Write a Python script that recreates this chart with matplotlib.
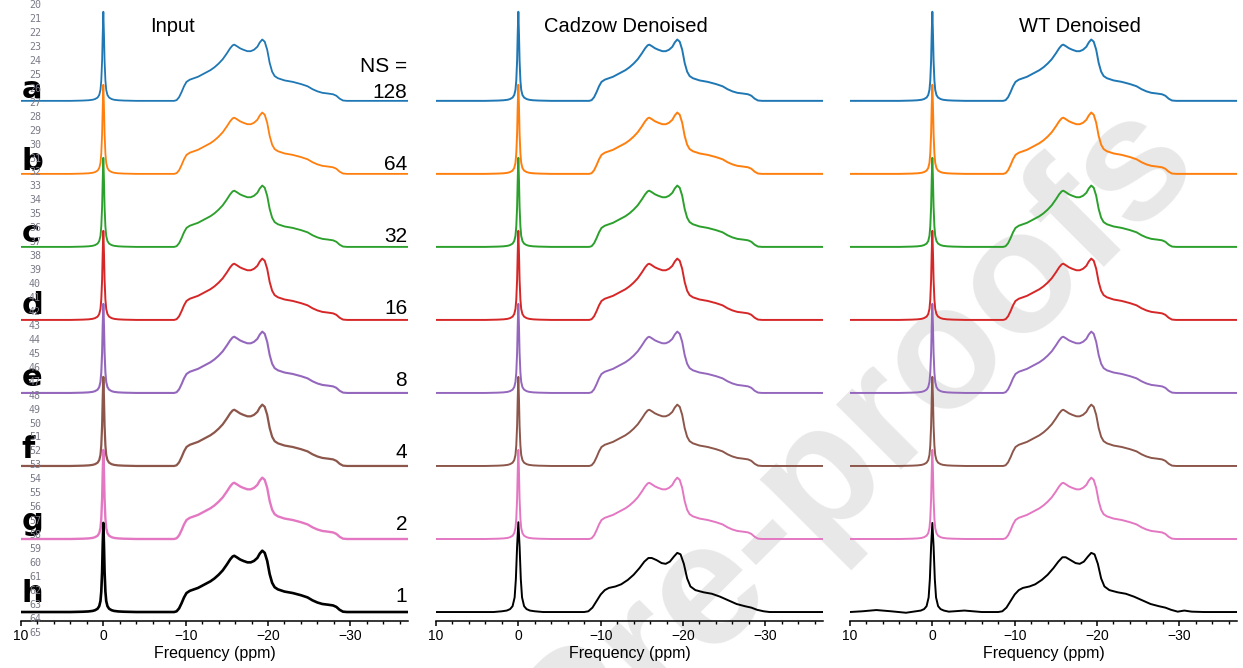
import matplotlib.pyplot as plt
from matplotlib.ticker import MultipleLocator

plt.rcParams['font.family'] = ['Liberation Sans', 'DejaVu Sans']

# spectrum shape (intensity in units of trace spacing)
ppm_clean = [10.0, 4.0, 2.5, 1.8, 1.3, 1.0, 0.7, 0.5, 0.35, 0.25, 0.15, 0.08, 0.0,
             -0.08, -0.15, -0.25, -0.35, -0.5, -0.7, -1.0, -1.3, -1.8, -2.5, -4.0,
             -8.6, -8.9, -9.2, -9.5, -9.8, -10.1, -10.5, -11.0, -11.5, -12.0, -12.5,
             -13.0, -13.5, -14.0, -14.5, -15.0, -15.4, -15.7, -15.9, -16.2, -16.6,
             -17.0, -17.5, -17.9, -18.3, -18.7, -19.0, -19.3, -19.6, -19.9, -20.2,
             -20.5, -20.8, -21.2, -22.0, -23.0, -24.0, -24.8, -25.4, -26.0, -26.6,
             -27.3, -27.9, -28.3, -28.7, -29.1, -29.6, -37.0]
clean_vals = [0.0, 0.0, 0.004, 0.008, 0.015, 0.025, 0.045, 0.08, 0.15, 0.28, 0.55, 0.90, 1.22,
              0.90, 0.55, 0.28, 0.15, 0.08, 0.045, 0.025, 0.015, 0.008, 0.004, 0.0,
              0.0, 0.01, 0.05, 0.12, 0.20, 0.26, 0.29, 0.31, 0.33, 0.36, 0.39,
              0.42, 0.46, 0.51, 0.57, 0.65, 0.72, 0.76, 0.77, 0.75, 0.72,
              0.70, 0.68, 0.68, 0.70, 0.74, 0.80, 0.84, 0.81, 0.70, 0.52,
              0.40, 0.34, 0.31, 0.28, 0.26, 0.23, 0.20, 0.16, 0.13, 0.11,
              0.10, 0.09, 0.07, 0.03, 0.005, 0.0, 0.0]

# smoother, broader shape of the NS = 1 denoised traces
ppm_smooth = [10.0, 3.0, 2.0, 1.4, 1.0, 0.7, 0.45, 0.3, 0.15, 0.0, -0.15, -0.3, -0.45,
              -0.7, -1.0, -1.4, -2.0, -3.0, -8.0, -8.5, -9.0, -9.5, -10.0, -10.5,
              -11.0, -11.8, -12.5, -13.3, -14.0, -14.7, -15.3, -15.8, -16.2, -16.8,
              -17.4, -17.9, -18.4, -18.9, -19.3, -19.7, -20.1, -20.5, -20.9, -21.5,
              -22.5, -23.5, -24.5, -25.5, -26.5, -27.5, -28.3, -29.0, -29.8, -30.5, -37.0]
smooth_vals = [0.0, 0.0, 0.01, 0.02, 0.04, 0.08, 0.2, 0.45, 0.9, 1.23, 0.9, 0.45, 0.2,
               0.08, 0.04, 0.02, 0.01, 0.0, 0.0, 0.01, 0.06, 0.15, 0.24, 0.30,
               0.33, 0.35, 0.38, 0.44, 0.51, 0.60, 0.69, 0.74, 0.74, 0.71,
               0.67, 0.66, 0.69, 0.76, 0.81, 0.79, 0.66, 0.46, 0.35, 0.30,
               0.27, 0.25, 0.21, 0.16, 0.11, 0.08, 0.06, 0.03, 0.01, 0.0, 0.0]

# WT NS = 1 trace, with its small baseline wiggles
ppm_wt_h = [10.0, 8.5, 6.8, 5.0, 3.2, 2.0, 1.4, 1.0, 0.7, 0.45, 0.3, 0.15, 0.0, -0.15,
            -0.3, -0.45, -0.7, -1.0, -1.4, -2.0, -3.9, -6.0, -8.0, -8.5, -9.0, -9.5,
            -10.0, -10.5, -11.0, -11.8, -12.5, -13.3, -14.0, -14.7, -15.3, -15.8,
            -16.2, -16.8, -17.4, -17.9, -18.4, -18.9, -19.3, -19.7, -20.1, -20.5,
            -20.9, -21.5, -22.5, -23.5, -24.5, -25.5, -26.5, -27.5, -28.3, -29.0,
            -29.8, -30.6, -31.5, -33.0, -37.0]
wt_h_vals = [0.0, 0.01, 0.027, 0.01, -0.01, 0.01, 0.02, 0.04, 0.08, 0.2, 0.45, 0.9, 1.22, 0.9,
             0.45, 0.2, 0.08, 0.04, 0.02, 0.005, 0.02, 0.0, 0.0, 0.01, 0.06, 0.15,
             0.24, 0.30, 0.33, 0.35, 0.38, 0.44, 0.51, 0.60, 0.69, 0.75,
             0.75, 0.71, 0.67, 0.66, 0.69, 0.76, 0.81, 0.79, 0.66, 0.46,
             0.35, 0.30, 0.27, 0.25, 0.21, 0.16, 0.11, 0.08, 0.06, 0.03,
             0.005, 0.02, 0.005, 0.0, 0.0]

row_labels = ['a', 'b', 'c', 'd', 'e', 'f', 'g', 'h']
ns_values = ['128', '64', '32', '16', '8', '4', '2', '1']
colors = ['#1f77b4', '#ff7f0e', '#2ca02c', '#d62728', '#9467bd', '#8c564b', '#e377c2', 'black']
panel_titles = ['Input', 'Cadzow Denoised', 'WT Denoised']

W, H = 1243, 668
fig = plt.figure(figsize=(W / 100, H / 100), dpi=100)
fig.patch.set_facecolor('white')


def px(x, y):
    return x / W, 1 - y / H


# watermark sits behind the traces
fig.text(*px(855, 440), 'Pre-proofs', rotation=45, rotation_mode='anchor', fontsize=126,
         fontweight='bold', color='#e8e8e8', ha='center', va='center', zorder=-5)

panel_left = [21, 436, 850]
title_pos = [(172, 32), (626, 32), (1080, 32)]
n = len(row_labels)

for p in range(3):
    ax = fig.add_axes([panel_left[p] / W, 47 / H, 387 / W, 618 / H])
    ax.set_facecolor('none')
    for i in range(n):
        off = n - 1 - i
        if p > 0 and i == n - 1:
            x, y = (ppm_smooth, smooth_vals) if p == 1 else (ppm_wt_h, wt_h_vals)
        else:
            x, y = ppm_clean, clean_vals
        lw = 1.4
        if p == 0:
            lw = [1.3, 1.3, 1.35, 1.4, 1.5, 1.6, 1.7, 1.9][i]
        ax.plot(x, [v + off for v in y], color=colors[i], lw=lw, solid_joinstyle='round')

    ax.set_xlim(10, -37)
    ax.set_ylim(-0.123, 8.34)
    for s in ['top', 'left', 'right']:
        ax.spines[s].set_visible(False)
    ax.spines['bottom'].set_linewidth(1.1)
    ax.set_yticks([])
    ax.set_xticks([10, 0, -10, -20, -30])
    ax.xaxis.set_minor_locator(MultipleLocator(2))
    ax.tick_params(axis='x', which='major', length=3.5, width=1.1, labelsize=10, pad=2.5)
    ax.tick_params(axis='x', which='minor', length=2, width=1)
    ax.set_xlabel('Frequency (ppm)', fontsize=11.5, labelpad=2)

    fig.text(*px(*title_pos[p]), panel_titles[p], fontsize=14.5, ha='center', va='baseline')

    if p == 0:
        for i in range(n):
            off = n - 1 - i
            ly = off + 0.04 + 0.013 * i
            ax.text(9.9, ly, row_labels[i], fontsize=22, fontweight='bold',
                    family='DejaVu Sans', ha='left', va='baseline')
            ax.text(-36.9, ly, ns_values[i], fontsize=15, ha='right', va='baseline')
        ax.text(-36.9, n - 1 + 0.4, 'NS =', fontsize=15, ha='right', va='baseline')

# manuscript line numbers down the left margin
for k in range(20, 66):
    fig.text(*px(35, 19 + 13.95 * (k - 21)), str(k), fontsize=7.2, family='DejaVu Sans Mono',
             color='#7a7a88', ha='center', va='center', zorder=10)

fig.savefig('out.png', dpi=100)
